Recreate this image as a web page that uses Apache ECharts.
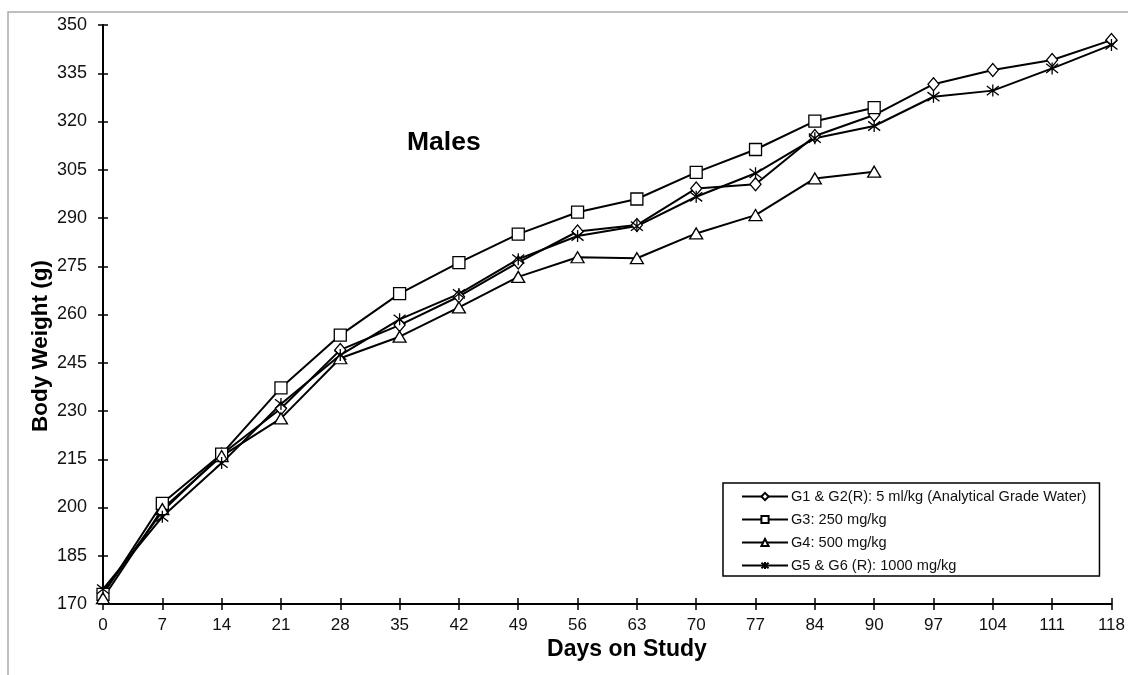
<!DOCTYPE html>
<html><head><meta charset="utf-8">
<script src="https://cdn.jsdelivr.net/npm/echarts@6/dist/echarts.min.js"></script>
<style>html,body{margin:0;padding:0;background:#fff}#c{width:1128px;height:675px}</style>
</head><body><div id="c"></div>
<script>
const days = ['0','7','14','21','28','35','42','49','56','63','70','77','84','90','97','104','111','118'];
const seriesNames = ['G1 & G2(R): 5 ml/kg (Analytical Grade Water)','G3: 250 mg/kg','G4: 500 mg/kg','G5 & G6 (R): 1000 mg/kg'];
const g1 = [173.5,198.8,216.5,230.8,249.0,256.7,265.6,276.2,285.8,287.8,299.2,300.5,315.5,322.0,331.6,336.0,339.1,345.3];
const g3 = [173.0,201.3,216.6,237.2,253.6,266.5,276.1,285.0,291.8,295.9,304.2,311.3,320.1,324.3,null,null,null,null];
const g4 = [171.8,199.5,216.0,227.7,246.4,253.1,262.2,271.7,277.8,277.5,285.2,290.9,302.3,304.4,null,null,null,null];
const g5 = [174.6,197.1,213.8,232.2,247.4,258.5,266.4,277.2,284.4,287.5,296.6,303.9,314.8,318.6,327.7,329.6,336.5,343.8];
const yMin = 170, yMax = 350, yStep = 15;

const FONT = '"Liberation Sans", Arial, sans-serif';
const star = 'path://M0,0L10,10M10,0L0,10M5,-1.5L5,11.5';
function mk(name, data, symbol, size) {
  return {
    name, type: 'line', data, symbol, symbolSize: size, showAllSymbol: true,
    lineStyle: { color: '#000', width: 2 },
    itemStyle: { color: '#fff', borderColor: '#000', borderWidth: 1.3 },
    emphasis: { disabled: true }, animation: false, z: 3
  };
}
const chart = echarts.init(document.getElementById('c'));
chart.setOption({
  animation: false,
  backgroundColor: '#fff',
  textStyle: { fontFamily: FONT },
  graphic: [
    { type: 'rect', shape: { x: 8, y: 12, width: 1300, height: 800 }, style: { fill: 'none', stroke: '#aaa', lineWidth: 1.5 }, silent: true, z: -1 },
    { type: 'text', x: 407, y: 143, style: { text: 'Males', font: 'bold 26.5px ' + FONT, fill: '#000', verticalAlign: 'middle' } },
    { type: 'text', x: 41, y: 346, rotation: Math.PI / 2, style: { text: 'Body Weight (g)', font: 'bold 22.5px ' + FONT, fill: '#000', align: 'center', verticalAlign: 'middle' } },
    { type: 'text', x: 627, y: 650, style: { text: 'Days on Study', font: 'bold 23px ' + FONT, fill: '#000', align: 'center', verticalAlign: 'middle' } }
  ],
  grid: { left: 103, right: 15, top: 25, bottom: 71 },
  legend: {
    orient: 'vertical', left: 723, top: 483,
    data: seriesNames,
    itemWidth: 46, itemHeight: 9, itemGap: 6,
    padding: [5, 13, 2, 18],
    borderColor: '#000', borderWidth: 1.5,
    textStyle: { fontSize: 14.6, lineHeight: 17, color: '#111', fontFamily: FONT, padding: [0, 0, 0, -2] }
  },
  xAxis: [{
    type: 'category', data: days, boundaryGap: false,
    axisLine: { lineStyle: { color: '#000', width: 2 } },
    axisTick: { show: true, length: 6, alignWithLabel: true, lineStyle: { color: '#000', width: 1.5 } },
    axisLabel: { fontSize: 17, color: '#111', margin: 13, interval: 0 },
    splitLine: { show: false }
  }, {
    type: 'category', data: days, boundaryGap: false, position: 'bottom',
    axisLine: { show: false },
    axisTick: { show: true, inside: true, length: 6, lineStyle: { color: '#000', width: 1.5 } },
    axisLabel: { show: false }, splitLine: { show: false }
  }],
  yAxis: [{
    type: 'value', min: yMin, max: yMax, interval: yStep,
    axisLine: { show: true, lineStyle: { color: '#000', width: 2 } },
    axisTick: { show: true, length: 5, lineStyle: { color: '#000', width: 1.5 } },
    axisLabel: { fontSize: 18, color: '#111', margin: 16 },
    splitLine: { show: false }
  }, {
    type: 'value', min: yMin, max: yMax, interval: yStep, position: 'left',
    axisLine: { show: false },
    axisTick: { show: true, inside: true, length: 5, lineStyle: { color: '#000', width: 1.5 } },
    axisLabel: { show: false }, splitLine: { show: false }
  }],
  series: [
    mk(seriesNames[0], g1, 'diamond', [11, 13]),
    mk(seriesNames[1], g3, 'rect', 12),
    mk(seriesNames[2], g4, 'triangle', [13, 11]),
    mk(seriesNames[3], g5, star, 12)
  ]
});
</script>
</body></html>
